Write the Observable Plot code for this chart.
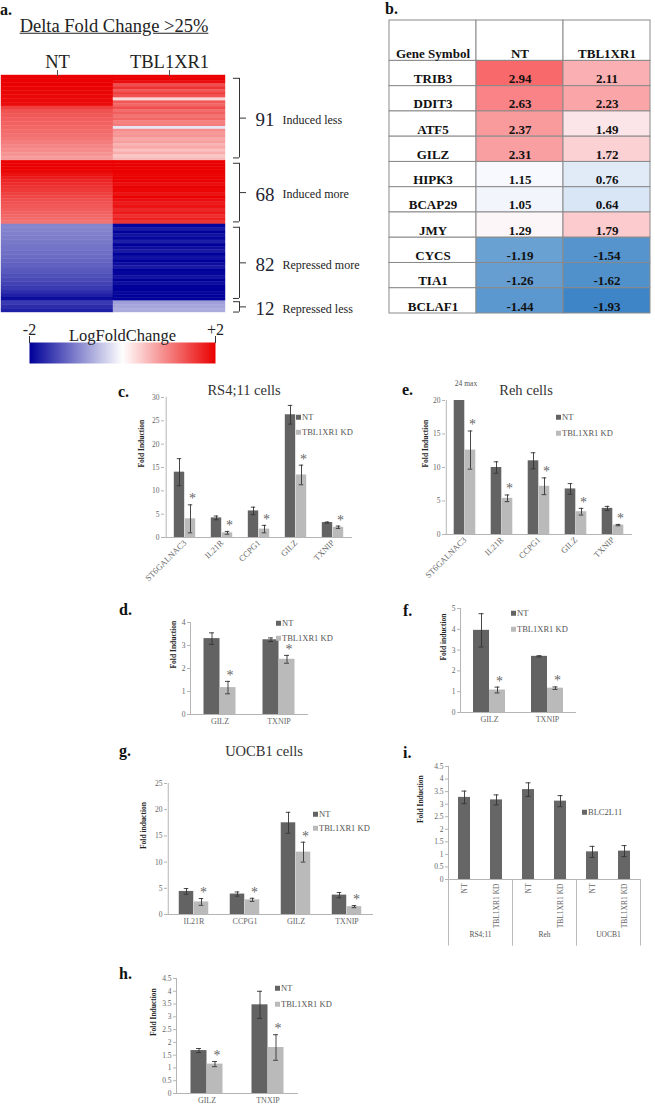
<!DOCTYPE html>
<html><head><meta charset="utf-8">
<script src="https://cdn.jsdelivr.net/npm/d3@7"></script>
<script src="https://cdn.jsdelivr.net/npm/@observablehq/plot@0.6"></script>
<style>
body{margin:0;background:#fff;}
#root{position:relative;width:655px;height:1108px;overflow:hidden;background:#fff;font-family:'Liberation Serif','Times New Roman',serif;}
.t{position:absolute;white-space:nowrap;line-height:1;}
.leg{position:absolute;white-space:nowrap;line-height:1;font-size:8.5px;color:#555;display:flex;align-items:center;transform:translateY(-50%);}
.sw{display:inline-block;width:5px;height:5px;margin-right:1px;}
.pane{position:absolute;}
</style></head><body><div id="root"></div>
<script>
// ---------------- DATA ----------------
// Panel a: heatmap
const heatColumns = ["NT", "TBL1XR1"];
const blockNames = ["Induced less", "Induced more", "Repressed more", "Repressed less"];
const blockCounts = [91, 68, 82, 12];
const ntInducedLess = [2.0,2.0,2.0,1.98,1.96,1.94,1.92,1.9,1.5,1.35,1.3,1.27,1.24,1.2,1.16,1.12,1.08,1.02,0.96,0.9,0.84,0.78];
const tblInducedLess = [2.0,2.0,1.9,1.4,1.6,1.3,1.5,1.35,0.3,1.3,1.2,1.4,1.15,1.25,1.1,1.2,1.0,1.05,-0.2,0.9,0.8,0.85,0.7,0.75,0.6,0.7,0.5,0.65,0.45,0.55];
const ntInducedMore = [2,2,2,1.95,1.85,1.78,1.72,1.66,1.6,1.55,1.5,1.45,1.4,1.36,1.32,1.28,1.24,1.2,1.15,1.1];
const tblInducedMore = [2,2,2,2,1.95,2,2,1.9,2,1.95,1.85,2,1.9,1.8,1.85,1.7,1.8,1.65,1.75,1.6];
const ntRepressedMore = [-0.95,-0.97,-1.0,-1.02,-1.05,-1.08,-1.1,-1.13,-1.16,-1.2,-1.24,-1.28,-1.32,-1.37,-1.42,-1.48,-1.55,-1.63,-1.75,-1.9];
const tblRepressedMore = [-1.95,-1.8,-2,-1.85,-1.95,-1.75,-2,-1.9,-1.8,-2,-1.85,-2,-1.9,-1.8,-2,-1.95,-1.85,-2,-1.9,-2,-2,-1.95,-2,-2];
const ntRepressedLess = [-1.55,-1.65,-1.75];
const tblRepressedLess = [-0.75,-0.7,-0.65];
const heatScaleDomain = [-2, 0, 2];
const heatTickLabels = ["-2", "+2"];

// Panel b: table
const tableCols = ["Gene Symbol", "NT", "TBL1XR1"];
const tableGenes = ["TRIB3","DDIT3","ATF5","GILZ","HIPK3","BCAP29","JMY","CYCS","TIA1","BCLAF1"];
const tableNT = [2.94,2.63,2.37,2.31,1.15,1.05,1.29,-1.19,-1.26,-1.44];
const tableTBL = [2.11,2.23,1.49,1.72,0.76,0.64,1.79,-1.54,-1.62,-1.93];

// Panel c: RS4;11 cells
const cGenes = ["ST6GALNAC3","IL21R","CCPG1","GILZ","TXNIP"];
const cNT = [14.0, 4.2, 5.7, 26.3, 3.2];
const cNTerr = [2.9, 0.4, 0.8, 2.0, 0.12];
const cKD = [4.0, 1.0, 1.8, 13.4, 2.2];
const cKDerr = [3.0, 0.3, 0.8, 2.1, 0.25];
const cTicks = [0,5,10,15,20,25,30];

// Panel e: Reh cells
const eGenes = ["ST6GALNAC3","IL21R","CCPG1","GILZ","TXNIP"];
const eNT = [24, 10.0, 11.0, 6.8, 3.9];
const eNTerr = [0, 0.85, 1.2, 0.8, 0.3];
const eKD = [12.6, 5.4, 7.2, 3.4, 1.4];
const eKDerr = [2.85, 0.5, 1.25, 0.5, 0.1];
const eTicks = [0,5,10,15,20];

// Panel d
const dGenes = ["GILZ","TXNIP"];
const dNT = [3.3, 3.25];
const dNTerr = [0.25, 0.08];
const dKD = [1.17, 2.4];
const dKDerr = [0.27, 0.17];
const dTicks = [0,1,2,3,4];

// Panel f
const fGenes = ["GILZ","TXNIP"];
const fNT = [3.95, 2.7];
const fNTerr = [0.8, 0.03];
const fKD = [1.08, 1.17];
const fKDerr = [0.14, 0.06];
const fTicks = [0,1,2,3,4,5];

// Panel g: UOCB1 cells
const gGenes = ["IL21R","CCPG1","GILZ","TXNIP"];
const gNT = [4.4, 3.9, 17.5, 3.7];
const gNTerr = [0.55, 0.4, 2.0, 0.5];
const gKD = [2.4, 2.8, 11.9, 1.5];
const gKDerr = [0.65, 0.3, 1.9, 0.2];
const gTicks = [0,5,10,15,20,25];

// Panel i: BLC2L11
const iGroups = ["RS4;11","Reh","UOCB1"];
const iConditions = ["NT","TBL1XR1 KD"];
const iValues = [3.27, 3.17, 3.58, 3.12, 1.1, 1.13];
const iErr = [0.25, 0.2, 0.27, 0.22, 0.22, 0.22];
const iTicks = [0,0.5,1,1.5,2,2.5,3,3.5,4,4.5];

// Panel h
const hGenes = ["GILZ","TNXIP"];
const hNT = [1.68, 3.47];
const hNTerr = [0.08, 0.53];
const hKD = [1.15, 1.8];
const hKDerr = [0.1, 0.5];
const hTicks = [0,0.5,1,1.5,2,2.5,3,3.5,4,4.5];

const seriesNames = ["NT", "TBL1XR1 KD"];

// ---------------- HELPERS ----------------
const FONT = "'Liberation Serif','Times New Roman',serif";
const NT_COLOR = "#636363", KD_COLOR = "#bababa";
const root = document.getElementById("root");

function text(str, x, y, css, anchor) {
  const d = document.createElement("div");
  d.className = "t";
  d.textContent = str;
  d.style.cssText += css;
  d.style.left = x + "px";
  d.style.top = y + "px";
  const tx = anchor === "start" ? "0" : anchor === "end" ? "-100%" : "-50%";
  d.style.transform = `translate(${tx},-50%)`;
  root.appendChild(d);
  return d;
}
function pane(node, left, top) {
  const d = document.createElement("div");
  d.className = "pane";
  d.style.left = left + "px";
  d.style.top = top + "px";
  d.appendChild(node);
  root.appendChild(d);
}
function legend(x, y, items, gap) {
  items.forEach(([color, label], i) => {
    const d = document.createElement("div");
    d.className = "leg";
    d.style.left = x + "px";
    d.style.top = (y + i * gap) + "px";
    d.innerHTML = `<span class="sw" style="background:${color}"></span>`;
    d.appendChild(document.createTextNode(label));
    root.appendChild(d);
  });
}
const panelCss = "font-weight:bold;font-size:16px;color:#111;";
const titleCss = "font-size:14.5px;color:#333;";

function barPanel(cfg) {
  const {cats, colors, values, errs, stars, ticks, x0, x1, y0, yTop, barW, rotate, yLabel, labelDx, tickFormat, mb, extra, xFont} = cfg;
  const ml = 40, mr = 4, mt = 6;
  const width = ml + (x1 - x0) + mr;
  const height = mt + (y0 - yTop) + mb;
  const n = cats.length, bw = (x1 - x0) / n, nS = values.length;
  const off = si => (si - (nS - 1) / 2) * barW;
  const yMax = ticks[ticks.length - 1];
  const marks = [];
  values.forEach((vals, si) => {
    const rows = cats.map((c, ci) => ({cat: c, v: vals[ci], e: errs[si][ci], star: stars ? stars[si][ci] : false}));
    marks.push(Plot.barY(rows, {x: "cat", y: "v", fill: colors[si],
      insetLeft: bw / 2 + off(si) - barW / 2, insetRight: bw / 2 - off(si) - barW / 2, clip: true}));
    const er = rows.filter(r => r.e > 0);
    marks.push(Plot.ruleX(er, {x: "cat", y1: r => r.v - r.e, y2: r => r.v + r.e, dx: off(si), stroke: "#333", strokeWidth: 0.9}));
    marks.push(Plot.tickY(er, {x: "cat", y: r => r.v + r.e, dx: off(si), insetLeft: bw / 2 - 2.5, insetRight: bw / 2 - 2.5, stroke: "#333", strokeWidth: 0.9}));
    marks.push(Plot.tickY(er, {x: "cat", y: r => r.v - r.e, dx: off(si), insetLeft: bw / 2 - 2.5, insetRight: bw / 2 - 2.5, stroke: "#333", strokeWidth: 0.9}));
    marks.push(Plot.text(rows.filter(r => r.star), {x: "cat", y: r => r.v + r.e, text: () => "*", dx: off(si) + 2, dy: -6, fontSize: 14, fill: "#666", fontFamily: FONT}));
  });
  const chart = Plot.plot({
    width, height, marginLeft: ml, marginRight: mr, marginTop: mt, marginBottom: mb,
    style: {fontFamily: FONT, fontSize: "7.5px", color: "#666", background: "transparent", overflow: "visible"},
    x: {domain: cats, padding: 0, axis: null},
    y: {domain: [0, yMax], axis: null},
    marks: [
      Plot.ruleY([0], {stroke: "#b5b5b5"}),
      Plot.ruleX([cats[0]], {dx: -bw / 2, y1: () => 0, y2: () => yMax, stroke: "#b5b5b5"}),
      Plot.axisY({ticks, tickSize: 3, tickPadding: 2, stroke: "#b5b5b5", label: null, tickFormat: d => String(d), fontFamily: FONT}),
      Plot.axisX({tickSize: 0, tickPadding: 4, tickRotate: rotate || 0, fontSize: xFont || 8.5, label: null, tickFormat: tickFormat || (d => d), fontFamily: FONT}),
      ...marks,
      ...(extra ? extra(bw) : []),
      Plot.text([yLabel], {frameAnchor: "left", text: d => d, rotate: -90, dx: -labelDx, fontWeight: "bold", fontSize: 7.5, fill: "#222", fontFamily: FONT})
    ]
  });
  pane(chart, x0 - ml, yTop - mt);
}

// ---------------- PANEL A ----------------
text("a.", 0, 10, panelCss, "start");
text("Delta Fold Change >25%", 114, 26, "font-size:18.5px;color:#222;text-decoration:underline;", "middle");

const ntBlocks = [ntInducedLess, ntInducedMore, ntRepressedMore, ntRepressedLess];
const tblBlocks = [tblInducedLess, tblInducedMore, tblRepressedMore, tblRepressedLess];
const heatRows = [];
const blocks = [];
let start = 0;
blockCounts.forEach((cnt, b) => {
  [[heatColumns[0], ntBlocks[b]], [heatColumns[1], tblBlocks[b]]].forEach(([col, arr]) => {
    arr.forEach((v, i) => heatRows.push({col, v, y1: start + i * cnt / arr.length, y2: start + (i + 1) * cnt / arr.length}));
  });
  blocks.push({name: blockNames[b], count: cnt, y1: start, y2: start + cnt});
  start += cnt;
});
const total = start;
const heatColor = {type: "linear", domain: heatScaleDomain, range: ["#00009a", "#ffffff", "#ea0000"]};

const heat = Plot.plot({
  width: 225, height: 267, marginTop: 30, marginLeft: 0, marginRight: 0, marginBottom: 0,
  style: {fontFamily: FONT, fontSize: "18.5px", color: "#222", background: "transparent", overflow: "visible"},
  x: {domain: heatColumns, padding: 0, axis: null},
  y: {domain: [0, total], reverse: true, axis: null},
  color: heatColor,
  marks: [
    Plot.barY(heatRows, {x: "col", y1: "y1", y2: "y2", fill: "v", stroke: "v", strokeWidth: 0.4}),
    Plot.axisX({anchor: "top", tickSize: 6, tickPadding: 2, label: null, stroke: "#555", fontFamily: FONT, fontSize: 18.5})
  ]
});
pane(heat, 0, 45);

const brackets = Plot.plot({
  width: 140, height: 237, marginTop: 0, marginLeft: 0, marginRight: 0, marginBottom: 0,
  style: {fontFamily: FONT, fontSize: "12px", color: "#222", background: "transparent", overflow: "visible"},
  x: {domain: [0, 140], axis: null},
  y: {domain: [0, total], reverse: true, axis: null},
  marks: [
    Plot.ruleX(blocks, {x: () => 11, y1: d => d.y1 + Math.min(3, d.count * 0.04), y2: d => d.y2 - Math.min(3, d.count * 0.04), stroke: "#333"}),
    Plot.ruleY(blocks, {y: d => d.y1 + Math.min(3, d.count * 0.04), x1: () => 5, x2: () => 11, stroke: "#333"}),
    Plot.ruleY(blocks, {y: d => d.y2 - Math.min(3, d.count * 0.04), x1: () => 5, x2: () => 11, stroke: "#333"}),
    Plot.ruleY(blocks, {y: d => (d.y1 + d.y2) / 2, x1: () => 11, x2: () => 18, stroke: "#333"}),
    Plot.text(blocks, {x: () => 27, y: d => (d.y1 + d.y2) / 2, text: d => String(d.count), textAnchor: "start", fontSize: 19, fill: "#223", dy: 2, fontFamily: FONT}),
    Plot.text(blocks, {x: () => 54, y: d => (d.y1 + d.y2) / 2, text: "name", textAnchor: "start", fontSize: 12, fill: "#222", dy: 2, fontFamily: FONT})
  ]
});
pane(brackets, 228, 75);

const cbar = Plot.plot({
  width: 186, height: 41, marginTop: 20, marginLeft: 0, marginRight: 0, marginBottom: 0,
  style: {fontFamily: FONT, fontSize: "16px", color: "#222", background: "transparent", overflow: "visible"},
  x: {domain: [heatScaleDomain[0], heatScaleDomain[2]], axis: null},
  y: {domain: [0, 1], axis: null},
  color: heatColor,
  marks: [
    Plot.raster({x1: heatScaleDomain[0], x2: heatScaleDomain[2], y1: 0, y2: 1, width: 186, height: 1, fill: (x, y) => x, imageRendering: "auto"}),
    Plot.axisX({anchor: "top", ticks: [heatScaleDomain[0], heatScaleDomain[2]], tickFormat: (d, i) => heatTickLabels[i], tickSize: 7, tickPadding: 1, label: null, stroke: "#333", fontFamily: FONT}),
    Plot.text(["LogFoldChange"], {frameAnchor: "top", text: d => d, dy: -13, fontSize: 16.5, fill: "#222", fontFamily: FONT})
  ]
});
pane(cbar, 29, 322);

// ---------------- PANEL B ----------------
text("b.", 385, 9, panelCss, "start");
const cells = [];
tableCols.forEach(c => cells.push({col: c, r0: -1.6, r1: 0, label: c, white: true}));
tableGenes.forEach((g, i) => cells.push({col: tableCols[0], r0: i, r1: i + 1, label: g, white: true}));
tableNT.forEach((v, i) => cells.push({col: tableCols[1], r0: i, r1: i + 1, v, label: v.toFixed(2)}));
tableTBL.forEach((v, i) => cells.push({col: tableCols[2], r0: i, r1: i + 1, v, label: v.toFixed(2)}));
const allVals = tableNT.concat(tableTBL);
const table = Plot.plot({
  width: 265, height: 295, marginTop: 1, marginLeft: 1, marginRight: 1, marginBottom: 1,
  style: {fontFamily: FONT, fontSize: "13px", color: "#111", background: "transparent", overflow: "visible"},
  x: {domain: tableCols, padding: 0, axis: null},
  y: {domain: [tableGenes.length, -1.6], axis: null},
  color: {type: "linear", domain: [d3.min(allVals), d3.median(allVals), d3.max(allVals)], range: ["#3d85c6", "#fcfcff", "#f8696b"]},
  marks: [
    Plot.barY(cells.filter(c => c.white), {x: "col", y1: "r0", y2: "r1", fill: "white", stroke: "#8a8a8a"}),
    Plot.barY(cells.filter(c => !c.white), {x: "col", y1: "r0", y2: "r1", fill: "v", stroke: "#8a8a8a"}),
    Plot.text(cells, {x: "col", y: "r1", text: "label", lineAnchor: "bottom", dy: -3, fontWeight: "bold", fontSize: 13, fill: "#111", fontFamily: FONT})
  ]
});
pane(table, 387, 19);

// ---------------- PANEL C ----------------
text("c.", 118, 392, panelCss, "start");
text("RS4;11 cells", 244, 390, titleCss, "middle");
barPanel({cats: cGenes, colors: [NT_COLOR, KD_COLOR], values: [cNT, cKD], errs: [cNTerr, cKDerr],
  stars: [cGenes.map(() => false), cGenes.map(() => true)], ticks: cTicks,
  x0: 164, x1: 352, y0: 537, yTop: 397, barW: 11, rotate: -45, yLabel: "Fold Induction", labelDx: 23, mb: 64});
legend(296, 417, [[NT_COLOR, seriesNames[0]], [KD_COLOR, seriesNames[1]]], 15);

// ---------------- PANEL E ----------------
text("e.", 402, 390, panelCss, "start");
text("24 max", 466, 384, "font-size:7.5px;color:#555;", "middle");
text("Reh cells", 526, 390, titleCss, "middle");
barPanel({cats: eGenes, colors: [NT_COLOR, KD_COLOR], values: [eNT, eKD], errs: [eNTerr, eKDerr],
  stars: [eGenes.map(() => false), eGenes.map(() => true)], ticks: eTicks,
  x0: 445, x1: 632, y0: 534, yTop: 400, barW: 11, rotate: -45, yLabel: "Fold Induction", labelDx: 20, mb: 64});
legend(556, 417, [[NT_COLOR, seriesNames[0]], [KD_COLOR, seriesNames[1]]], 16);

// ---------------- PANEL D ----------------
text("d.", 119, 610, panelCss, "start");
barPanel({cats: dGenes, colors: [NT_COLOR, KD_COLOR], values: [dNT, dKD], errs: [dNTerr, dKDerr],
  stars: [dGenes.map(() => false), dGenes.map(() => true)], ticks: dTicks,
  x0: 190, x1: 308, y0: 714, yTop: 622, barW: 16, yLabel: "Fold Induction", labelDx: 17, mb: 22, xFont: 8});
legend(276, 623, [[NT_COLOR, seriesNames[0]], [KD_COLOR, seriesNames[1]]], 15);

// ---------------- PANEL F ----------------
text("f.", 403, 611, panelCss, "start");
barPanel({cats: fGenes, colors: [NT_COLOR, KD_COLOR], values: [fNT, fKD], errs: [fNTerr, fKDerr],
  stars: [fGenes.map(() => false), fGenes.map(() => true)], ticks: fTicks,
  x0: 460, x1: 576, y0: 712, yTop: 608, barW: 16, yLabel: "Fold induction", labelDx: 17, mb: 22, xFont: 8});
legend(511, 613, [[NT_COLOR, seriesNames[0]], [KD_COLOR, seriesNames[1]]], 16);

// ---------------- PANEL G ----------------
text("g.", 119, 751, panelCss, "start");
text("UOCB1 cells", 264, 751, titleCss, "middle");
barPanel({cats: gGenes, colors: [NT_COLOR, KD_COLOR], values: [gNT, gKD], errs: [gNTerr, gKDerr],
  stars: [gGenes.map(() => false), gGenes.map(() => true)], ticks: gTicks,
  x0: 167, x1: 373, y0: 914, yTop: 783, barW: 15, yLabel: "Fold induction", labelDx: 24, mb: 22, xFont: 8});
legend(313, 814, [[NT_COLOR, seriesNames[0]], [KD_COLOR, seriesNames[1]]], 14);

// ---------------- PANEL I ----------------
text("i.", 403, 753, panelCss, "start");
const iCats = iGroups.flatMap(g => iConditions.map(c => g + "|" + c));
barPanel({cats: iCats, colors: ["#666666"], values: [iValues], errs: [iErr], stars: null, ticks: iTicks,
  x0: 448, x1: 640, y0: 879, yTop: 766, barW: 12, rotate: -90, yLabel: "Fold Induction", labelDx: 28, mb: 72, xFont: 7.5,
  tickFormat: d => d.split("|")[1],
  extra: bw => [
    Plot.ruleX(iGroups, {x: g => g + "|" + iConditions[0], dx: -bw / 2, y1: () => 0, y2: () => -2.65, stroke: "#bbb"}),
    Plot.ruleX(iGroups, {x: g => g + "|" + iConditions[1], dx: bw / 2, y1: () => 0, y2: () => -2.65, stroke: "#bbb"}),
    Plot.text(iGroups, {x: g => g + "|" + iConditions[0], dx: bw / 2, frameAnchor: "bottom", dy: 57, text: d => d, fontSize: 7.5, fill: "#555", fontFamily: FONT})
  ]});
legend(582, 812, [["#666666", "BLC2L11"]], 15);

// ---------------- PANEL H ----------------
text("h.", 119, 974, panelCss, "start");
barPanel({cats: hGenes, colors: [NT_COLOR, KD_COLOR], values: [hNT, hKD], errs: [hNTerr, hKDerr],
  stars: [hGenes.map(() => false), hGenes.map(() => true)], ticks: hTicks,
  x0: 176, x1: 298, y0: 1093, yTop: 978, barW: 16, yLabel: "Fold Induction", labelDx: 23, mb: 20, xFont: 8});
legend(275, 988, [[NT_COLOR, seriesNames[0]], [KD_COLOR, seriesNames[1]]], 16);
</script></body></html>
